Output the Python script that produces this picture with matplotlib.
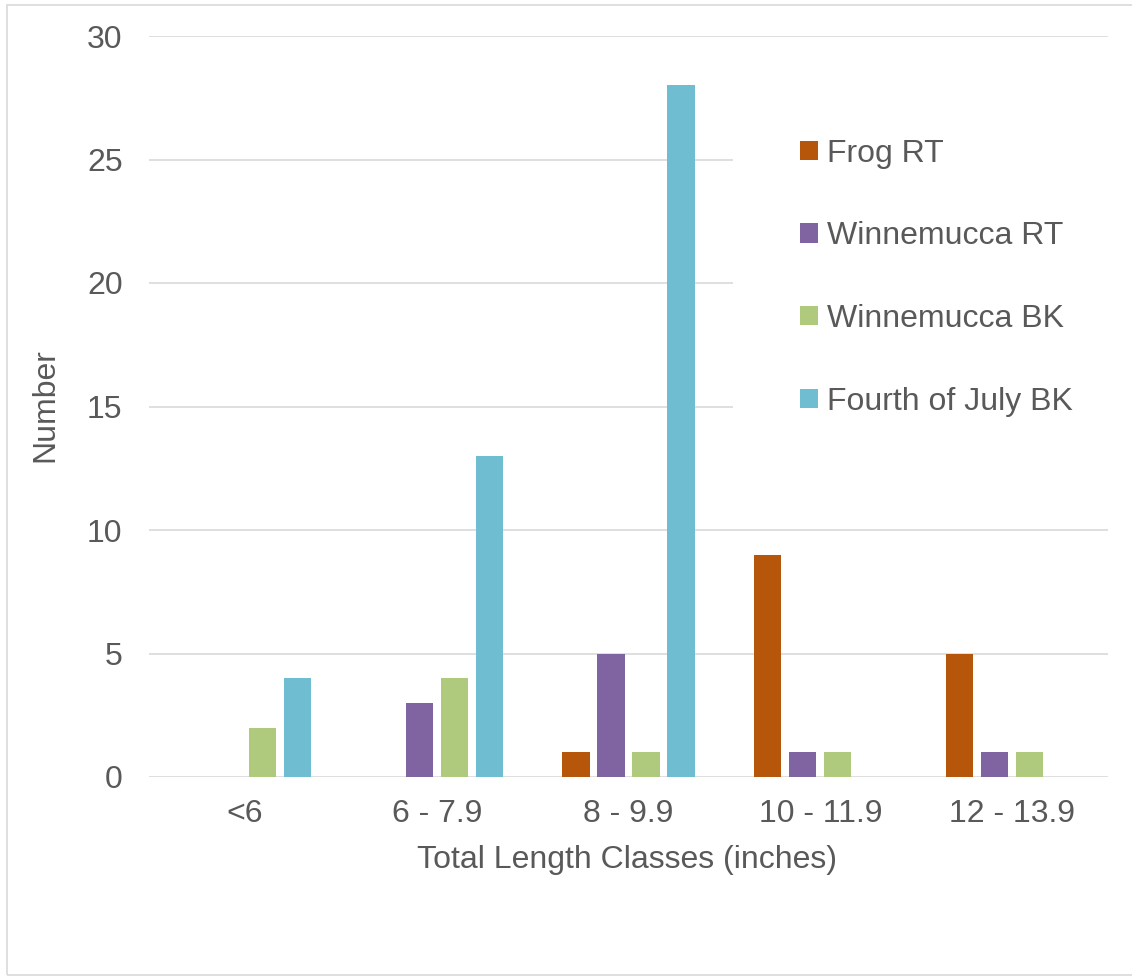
import numpy as np
import matplotlib.pyplot as plt
from matplotlib.patches import Rectangle

plt.rcParams['font.family'] = ['Liberation Sans', 'DejaVu Sans']

classes = ['<6', '6 - 7.9', '8 - 9.9', '10 - 11.9', '12 - 13.9']
frog_rt = [0, 0, 1, 9, 5]
winnemucca_rt = [0, 3, 5, 1, 1]
winnemucca_bk = [2, 4, 1, 1, 1]
fourth_july_bk = [4, 13, 28, 0, 0]

series = [('Frog RT', frog_rt, '#B5560B'),
          ('Winnemucca RT', winnemucca_rt, '#8064A2'),
          ('Winnemucca BK', winnemucca_bk, '#AFCA7C'),
          ('Fourth of July BK', fourth_july_bk, '#6FBDD1')]

txt = '#595959'
fs = 23

fig = plt.figure(figsize=(11.32, 9.77), dpi=100)
ax = fig.add_axes([149/1132, 1 - 777/977, 959/1132, 741/977])

x = np.arange(len(classes))
step = 0.1825
width = 0.141
for i, (name, vals, col) in enumerate(series):
    ax.bar(x + (i - 1.5)*step, vals, width, color=col, label=name, linewidth=0, zorder=3)

ax.set_xlim(-0.5, len(classes) - 0.5)
ax.set_ylim(0, 30)
ax.set_yticks(np.arange(0, 31, 5))
ax.set_xticks(x)
ax.set_xticklabels(classes)
ax.grid(axis='y', color='#D9D9D9', linewidth=1.2, zorder=0)
ax.set_axisbelow(True)
for s in ax.spines.values():
    s.set_visible(False)
ax.tick_params(axis='both', length=0, labelsize=fs, labelcolor=txt)
ax.tick_params(axis='y', pad=19)
ax.tick_params(axis='x', pad=16)

ax.set_xlabel('Total Length Classes (inches)', fontsize=fs, color=txt, va='center')
ax.xaxis.set_label_coords(0.498, -0.112)
ax.set_ylabel('Number', fontsize=fs, color=txt, va='center')
ax.yaxis.set_label_coords(-0.108, 0.502)

leg = ax.legend(loc='upper left', bbox_to_anchor=(0.609, 0.952), fontsize=fs,
                frameon=True, facecolor='white', edgecolor='none', framealpha=1,
                borderpad=2.1, labelspacing=1.65, handlelength=0.55, handleheight=0.55,
                handletextpad=0.3, borderaxespad=0)
for t in leg.get_texts():
    t.set_color(txt)

# light outer border (left, top, bottom)
fig.patches.append(Rectangle((7/1132, 2/977), 1.1, 970/977, transform=fig.transFigure,
                             fill=False, edgecolor='#D9D9D9', linewidth=1.2, zorder=10))

fig.savefig('out.png', dpi=100)
